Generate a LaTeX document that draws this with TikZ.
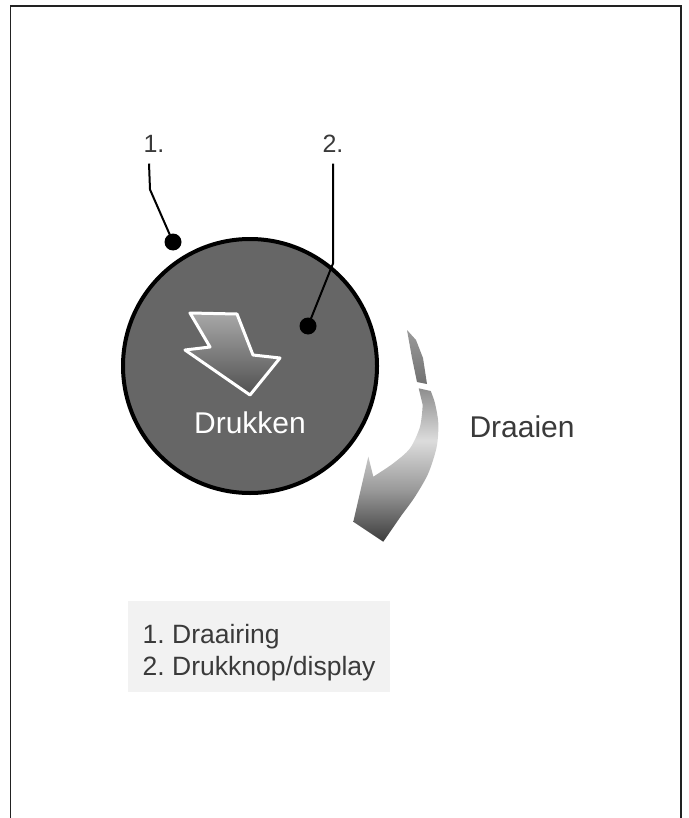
\documentclass[tikz,border=0pt]{standalone}
\usepackage{fontspec}
\setmainfont{Liberation Sans}
\usetikzlibrary{positioning, calc}
\definecolor{knobGrey}{HTML}{666666}
\definecolor{textGrey}{HTML}{3A3A3A}
\definecolor{legendFill}{HTML}{F2F2F2}
\definecolor{frameDark}{HTML}{222222}
\definecolor{pushLight}{HTML}{A8A8A8}
\definecolor{pushDark}{HTML}{505050}
\definecolor{turnTop}{HTML}{8E8E8E}
\definecolor{turnLight}{HTML}{DCDCDC}
\definecolor{turnMid}{HTML}{9A9A9A}
\definecolor{turnDark}{HTML}{3C3C3C}
\pgfdeclareverticalshading{turnShade}{100bp}{color(0bp)=(turnDark); color(25bp)=(turnDark);
    color(42bp)=(turnMid); color(58bp)=(turnLight); color(75bp)=(turnTop); color(100bp)=(turnTop)}

\begin{document}
\begin{tikzpicture}[x=1pt, y=-1pt,
        knob/.style={circle, draw=black, line width=4pt, fill=knobGrey, minimum size=254pt, inner sep=0pt},
        dot/.style={circle, fill=black, minimum size=17pt, inner sep=0pt},
        lbl/.style={font=\fontsize{25}{30}\selectfont, text=textGrey, anchor=base},
        bigtext/.style={font=\fontsize{30}{35}\selectfont},
        leader/.style={line width=2pt, draw=black},
        legend/.style={fill=legendFill, align=left, inner xsep=14.5pt, inner ysep=11.4pt,
            font=\fontsize{26.5}{32}\selectfont\frenchspacing, text=textGrey}
    ]
        \useasboundingbox (0,0) rectangle (688,818);
        % --- frame ---
        \draw[line width=1.5pt, frameDark] (10.5,818) -- (10.5,6) -- (681,6) -- (681,818);

        % --- knob ---
        \node[knob] (knob) at (250,366) {};
        \shade[top color=pushLight, bottom color=pushDark, draw=white, line width=3pt, line join=round]
            (190,313) -- (237,314) -- (253,355) -- (280,358) -- (250,395) -- (185,350) -- (210,347) -- cycle;
        \node[bigtext, text=white, anchor=base] (druk) at (250,433) {Drukken};

        % --- turn arrow ---
        \shade[top color=turnMid, bottom color=turnTop!80!black]
            (407,330) -- (416,340) -- (423,358) -- (427,384) -- (417,382) -- (412,358) -- cycle;
        \shade[shading=turnShade]
            (418.7,388.3) -- (430.7,391)
            -- plot[smooth] coordinates {(430.7,391) (435,403.3) (438.3,423.3) (436.7,446.7) (428.3,473.3) (415,496.7) (401.7,515)}
            -- (383.3,541.7) -- (353.3,521.7) -- (368.3,456.7) -- (373.3,476.7)
            -- plot[smooth] coordinates {(373.3,476.7) (393.3,463.3) (410,448.3) (420,426.7) (422.7,405)}
            -- cycle;
        \node[bigtext, text=textGrey, anchor=base west] (draai) at (466,437) {Draaien};

        % --- callouts ---
        \node[lbl] (lblA) at (154,153) {1.};
        \node[lbl] (lblB) at (333,153) {2.};
        \node[dot] (dotA) at (173,242) {};
        \node[dot] (dotB) at (308,326) {};
        \draw[leader] ([xshift=-5pt, yshift=-7pt]lblA.south) -- ++(1,26) -- (dotA.center);
        \draw[leader] ([yshift=-7pt]lblB.south) -- ++(0,100) -- (dotB.center);

        % --- legend ---
        \node[legend, anchor=north west] (legend) at (128,601) {\rule{0pt}{30.6pt}1. Draairing\\2. Drukknop/display};
    \end{tikzpicture}
\end{document}
